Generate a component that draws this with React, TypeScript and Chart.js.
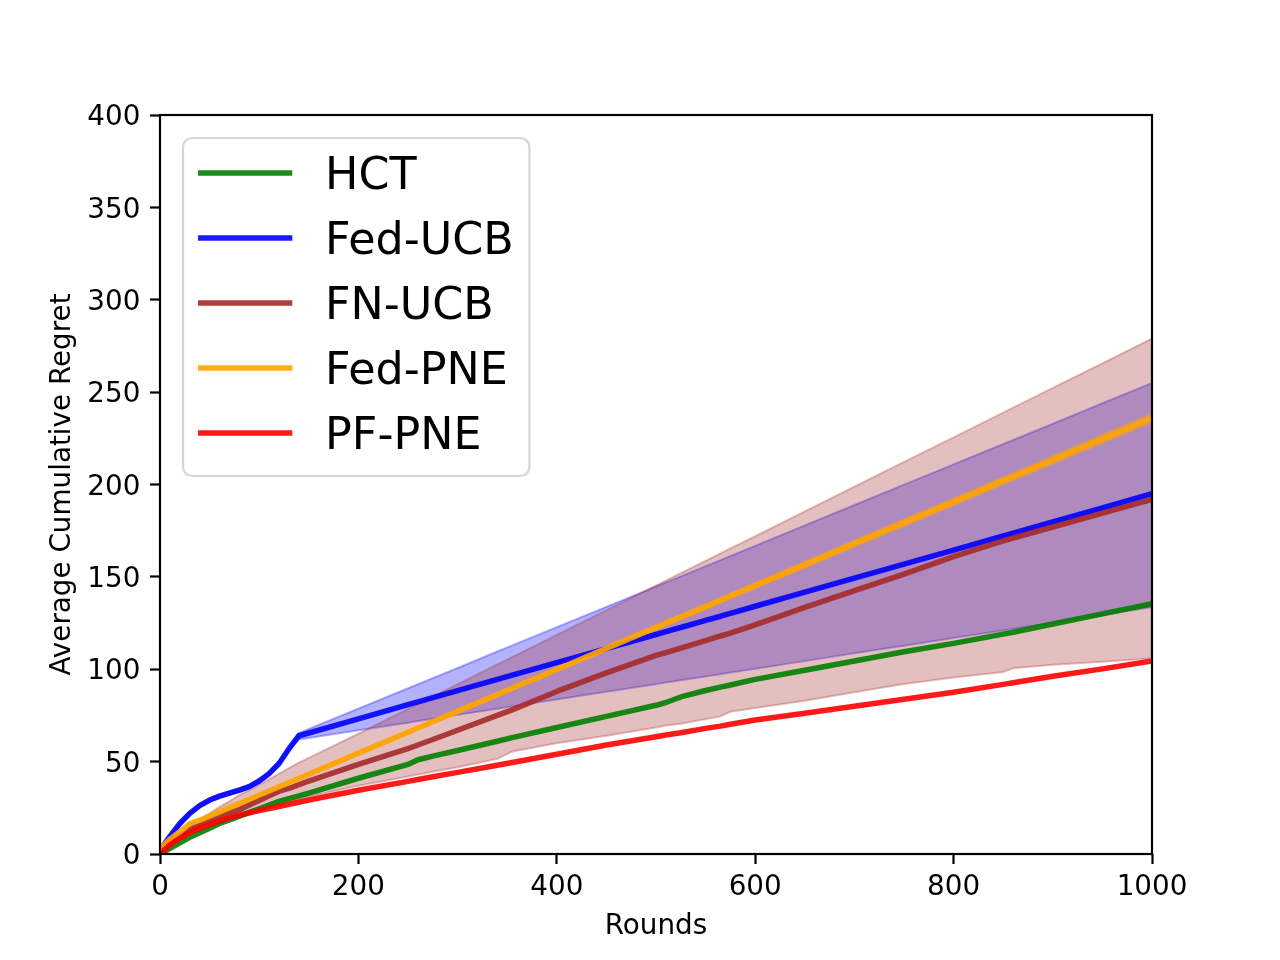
import { useEffect, useRef } from "react";
import { Chart, registerables } from "chart.js";

Chart.register(...registerables);

const FONT = "'DejaVu Sans', 'Liberation Sans', sans-serif";

const rounds = [0, 10, 20, 30, 40, 50, 60, 70, 80, 90, 100, 110, 120, 130, 140, 150, 200, 250, 260, 275, 300, 340, 355, 400, 450, 500, 510, 525, 550, 565, 575, 600, 650, 700, 750, 800, 850, 860, 900, 950, 1000];

const xTicks = [0, 200, 400, 600, 800, 1000];
const yTicks = [0, 50, 100, 150, 200, 250, 300, 350, 400];

const seriesNames = ["HCT", "Fed-UCB", "FN-UCB", "Fed-PNE", "PF-PNE"];

const hct = [0, 3, 6, 9, 11.5, 14, 16.5, 18.5, 20.5, 22.5, 24.5, 26.5, 28.5, 30, 31.5, 33, 41, 48.5, 51, 53, 56, 61, 63, 68.5, 74.5, 80.5, 82, 85, 88.5, 90.3, 91.5, 94.5, 99.5, 104.5, 109.5, 114, 119, 120, 124.5, 130, 135.5];

const fedUcb = [2, 9.5, 16.5, 22, 26.2, 29.2, 31.3, 33, 34.6, 36.5, 39.5, 43.5, 49, 57, 64, 65.5, 73.1, 80.8, 82.3, 84.6, 88.4, 94.5, 96.8, 103.6, 111.2, 118.8, 120.4, 122.6, 126.5, 128.7, 130.3, 134.1, 141.7, 149.3, 156.9, 164.5, 172.2, 173.7, 179.8, 187.4, 195];
const fedUcbUpper = [3, 10.5, 17.5, 23, 27.2, 30.2, 32.3, 34, 35.6, 37.5, 40.5, 44.5, 50, 58, 65.5, 67.7, 78.7, 89.7, 91.9, 95.2, 100.7, 109.6, 112.9, 122.8, 133.8, 144.8, 147, 150.3, 155.8, 159.1, 161.3, 166.8, 177.9, 188.9, 199.9, 210.9, 221.9, 224.1, 232.9, 244, 255];
const fedUcbLower = [1, 8.5, 15.5, 21, 25.2, 28.2, 30.3, 32, 33.6, 35.5, 38.5, 42.5, 48, 56, 62, 62.8, 67, 71.1, 72, 73.2, 75.3, 78.6, 79.9, 83.6, 87.8, 91.9, 92.8, 94, 96.1, 97.3, 98.2, 100.2, 104.4, 108.6, 112.7, 116.9, 121, 121.9, 125.2, 129.3, 133.5];

const fnUcb = [2, 6, 9.5, 13, 15.5, 18, 20, 22, 24, 26.5, 29, 31.5, 34, 35.5, 37.5, 39.5, 48.5, 57, 59, 62, 67, 75, 78, 88, 98, 107.5, 109, 111.5, 115.5, 118, 119.5, 124, 133.5, 142.5, 151.5, 161, 169.5, 171, 177, 184.5, 192];
const fnUcbUpper = [2.5, 7, 11, 15, 18.5, 22, 25.5, 28.5, 32, 34.5, 37.5, 40.5, 43.5, 46.5, 49.5, 52, 65.1, 78.5, 81.2, 85.2, 91.9, 102.6, 106.6, 118.6, 132, 145.3, 148, 152, 158.7, 162.7, 165.4, 172, 185.4, 198.8, 212.2, 225.5, 238.9, 241.6, 252.3, 265.6, 279];
const fnUcbLower = [1.5, 4.5, 7.5, 10.5, 12.5, 14.5, 16.5, 18.5, 20, 21.5, 23.5, 25, 26.5, 28, 29.5, 31, 37, 42, 43, 44.5, 47, 51.5, 55.5, 60, 64, 68.5, 69.5, 70.5, 73, 74.5, 77, 79, 83, 87.5, 92, 95.5, 98.5, 100.5, 102.5, 104, 106];

const fedPne = [3, 8, 12, 16.5, 18.3, 20.5, 22.8, 25.1, 27.3, 29.6, 31.9, 34.1, 36.4, 38.7, 40.9, 43.2, 54.6, 65.9, 68.2, 71.6, 77.2, 86.3, 89.7, 99.9, 111.3, 122.6, 124.9, 128.3, 133.9, 137.3, 139.6, 145.3, 156.6, 168, 179.3, 190.6, 202, 204.2, 213.3, 224.7, 236];
const fedPneUpper = [3.5, 8.5, 12.5, 17, 18.8, 21, 23.3, 25.6, 27.8, 30.1, 32.4, 34.6, 36.9, 39.2, 41.4, 43.7, 55.4, 66.8, 69.1, 72.5, 78.2, 87.3, 90.7, 101.1, 112.6, 124, 126.3, 129.7, 135.4, 138.8, 141.1, 146.9, 158.3, 169.8, 181.2, 192.6, 204.1, 206.3, 215.6, 227.1, 238.5];
const fedPneLower = [2.5, 7.5, 11.5, 16, 17.8, 20, 22.3, 24.6, 26.8, 29.1, 31.4, 33.6, 35.9, 38.2, 40.4, 42.7, 53.8, 65, 67.3, 70.7, 76.2, 85.3, 88.7, 98.7, 110, 121.2, 123.5, 126.9, 132.4, 135.8, 138.1, 143.7, 154.9, 166.2, 177.4, 188.6, 199.9, 202.1, 211, 222.3, 233.5];

const pfPne = [0, 5, 8.5, 11.5, 14, 16, 17.8, 19.5, 21, 22.3, 23.5, 24.6, 25.7, 26.9, 28, 29.2, 34.5, 39.3, 40.3, 41.8, 44.2, 48, 49.5, 54, 59, 63.5, 64.4, 65.6, 68, 69.2, 70.2, 72.5, 76.2, 80, 83.8, 87.5, 91.8, 92.7, 96.2, 100.2, 104.5];

const lineColors = [
  "rgba(0,128,0,0.9)",
  "rgba(0,0,255,0.9)",
  "rgba(165,42,42,0.9)",
  "rgba(255,165,0,0.9)",
  "rgba(255,0,0,0.9)",
];
const bandColors = {
  blue: "rgba(0,0,255,0.3)",
  brown: "rgba(165,42,42,0.3)",
  orange: "rgba(255,165,0,0.3)",
};

const pts = (ys: number[]) => rounds.map((x, i) => ({ x, y: ys[i] }));

const spinesPlugin = {
  id: "spines",
  afterDatasetsDraw(chart: any) {
    const { ctx, chartArea: a } = chart;
    ctx.save();
    ctx.strokeStyle = "#000";
    ctx.lineWidth = 2.2;
    ctx.strokeRect(a.left, a.top, a.right - a.left, a.bottom - a.top);
    ctx.restore();
  },
};

const legendPlugin = {
  id: "boxLegend",
  afterDraw(chart: any) {
    const { ctx, chartArea: a } = chart;
    const fs = 44.4;
    const items = chart.data.datasets.filter((d: any) => d.isMain);
    ctx.save();
    ctx.font = `${fs}px ${FONT}`;
    const maxW = Math.max(...items.map((d: any) => ctx.measureText(d.label).width));
    const x0 = a.left + 23;
    const y0 = a.top + 23;
    const pad = 0.4 * fs;
    const handleStart = x0 + pad;
    const handleEnd = handleStart + 2 * fs;
    const textX = handleEnd + 0.8 * fs;
    const rowGap = 65;
    const firstRow = y0 + 35;
    const w = textX + maxW + pad - 2 - x0;
    const h = 35 + rowGap * (items.length - 1) + 43;
    ctx.beginPath();
    ctx.roundRect(x0, y0, w, h, 9);
    ctx.fillStyle = "rgba(255,255,255,0.8)";
    ctx.fill();
    ctx.strokeStyle = "rgba(204,204,204,0.8)";
    ctx.lineWidth = 2.2;
    ctx.stroke();
    items.forEach((d: any, i: number) => {
      const ry = firstRow + i * rowGap;
      ctx.beginPath();
      ctx.strokeStyle = d.borderColor;
      ctx.lineWidth = 5.5;
      ctx.lineCap = "square";
      ctx.moveTo(handleStart, ry);
      ctx.lineTo(handleEnd, ry);
      ctx.stroke();
      ctx.fillStyle = "#000";
      ctx.textBaseline = "alphabetic";
      ctx.textAlign = "left";
      ctx.fillText(d.label, textX, ry + 15.8);
    });
    ctx.restore();
  },
};

export default function App() {
  const ref = useRef<HTMLCanvasElement>(null);

  useEffect(() => {
    document.body.style.margin = "0";
    if (!ref.current) return;

    const line = (i: number, data: number[], order: number) => ({
      label: seriesNames[i],
      data: pts(data),
      borderColor: lineColors[i],
      backgroundColor: lineColors[i],
      borderWidth: 5.5,
      pointRadius: 0,
      pointHoverRadius: 0,
      fill: false,
      order,
      clip: 0,
      borderJoinStyle: "round",
      borderCapStyle: "butt",
      isMain: true,
    });
    const bandUpper = (data: number[], color: string, order: number) => ({
      label: "",
      data: pts(data),
      borderColor: color,
      backgroundColor: color,
      borderWidth: 2,
      pointRadius: 0,
      pointHoverRadius: 0,
      fill: "+1",
      order,
      clip: 0,
    });
    const bandLower = (data: number[], color: string, order: number) => ({
      label: "",
      data: pts(data),
      borderColor: color,
      backgroundColor: color,
      borderWidth: 2,
      pointRadius: 0,
      pointHoverRadius: 0,
      fill: false,
      order,
      clip: 0,
    });

    const datasets: any[] = [
      line(0, hct, 5),
      line(1, fedUcb, 4),
      line(2, fnUcb, 3),
      line(3, fedPne, 2),
      line(4, pfPne, 1),
      bandUpper(fedUcbUpper, bandColors.blue, 30),
      bandLower(fedUcbLower, bandColors.blue, 30),
      bandUpper(fnUcbUpper, bandColors.brown, 20),
      bandLower(fnUcbLower, bandColors.brown, 20),
      bandUpper(fedPneUpper, bandColors.orange, 10),
      bandLower(fedPneLower, bandColors.orange, 10),
    ];

    const tickFont = { family: FONT, size: 27.8 };

    const chart = new Chart(ref.current, {
      type: "line",
      data: { datasets },
      plugins: [spinesPlugin, legendPlugin],
      options: {
        animation: false,
        responsive: false,
        devicePixelRatio: 1,
        layout: { padding: { left: 0, right: 128, top: 115, bottom: 0 } },
        plugins: {
          legend: { display: false },
          tooltip: { enabled: false },
        },
        elements: { line: { tension: 0 } },
        scales: {
          x: {
            type: "linear",
            min: 0,
            max: 1000,
            afterBuildTicks: (s: any) => {
              s.ticks = xTicks.map((v) => ({ value: v }));
            },
            ticks: {
              font: tickFont,
              color: "#000",
              padding: 7,
              maxRotation: 0,
              autoSkip: false,
              callback: (v: any) => String(v),
            },
            grid: {
              drawOnChartArea: false,
              drawTicks: true,
              tickLength: 10,
              tickWidth: 2.2,
              tickColor: "#000",
              color: "#000",
            },
            border: { display: false },
            title: {
              display: true,
              text: "Rounds",
              color: "#000",
              font: { family: FONT, size: 27.8 },
              padding: { top: 0, bottom: 16.6 },
            },
            afterFit: (s: any) => {
              s.height = 106;
            },
          },
          y: {
            type: "linear",
            min: 0,
            max: 400,
            afterBuildTicks: (s: any) => {
              s.ticks = yTicks.map((v) => ({ value: v }));
            },
            ticks: {
              font: tickFont,
              color: "#000",
              padding: 9.6,
              autoSkip: false,
              labelOffset: 3,
              callback: (v: any) => String(v),
            },
            grid: {
              drawOnChartArea: false,
              drawTicks: true,
              tickLength: 10,
              tickWidth: 2.2,
              tickColor: "#000",
              color: "#000",
            },
            border: { display: false },
            title: {
              display: true,
              text: "Average Cumulative Regret",
              color: "#000",
              font: { family: FONT, size: 27.8 },
              padding: { top: 46.5, bottom: 0 },
            },
            afterFit: (s: any) => {
              s.width = 160;
            },
          },
        },
      } as any,
    });

    return () => chart.destroy();
  }, []);

  return (
    <div style={{ position: "fixed", left: 0, top: 0, width: 1280, height: 960, background: "#fff" }}>
      <canvas ref={ref} width={1280} height={960} style={{ display: "block" }} />
    </div>
  );
}
